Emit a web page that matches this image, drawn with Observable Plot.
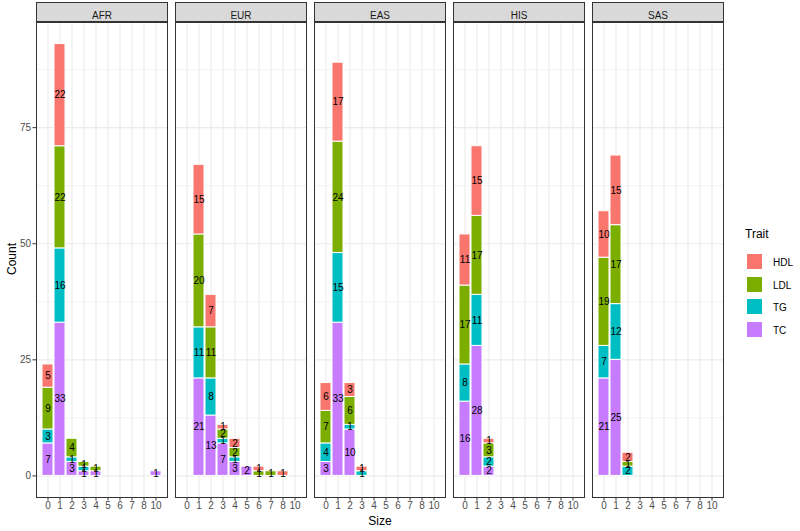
<!DOCTYPE html>
<html><head><meta charset="utf-8">
<script src="https://cdn.jsdelivr.net/npm/d3@7"></script>
<script src="https://cdn.jsdelivr.net/npm/@observablehq/plot@0.6"></script>
<style>
body{margin:0;background:#fff;font-family:"Liberation Sans",Arial,sans-serif;}
#wrap{position:relative;width:800px;height:531px;overflow:hidden;}
.abs{position:absolute;white-space:nowrap;}
</style></head><body><div id="wrap"></div>
<script>
// Facets, x categories, traits
const pops = ["AFR", "EUR", "EAS", "HIS", "SAS"];
const sizes = ["0", "1", "2", "3", "4", "5", "6", "7", "8", "10"];
const traits = ["HDL", "LDL", "TG", "TC"];          // legend order
const stackOrder = ["TC", "TG", "LDL", "HDL"];      // bottom -> top
const traitColors = ["#F8766D", "#7CAE00", "#00BFC4", "#C77CFF"];
const yTicks = [0, 25, 50, 75];
const yMinor = [12.5, 37.5, 62.5, 87.5];

// Counts per population, per trait, aligned with `sizes`
const AFR = {TC: [7, 33, 3, 1, 1, 0, 0, 0, 0, 1], TG: [3, 16, 1, 1, 0, 0, 0, 0, 0, 0], LDL: [9, 22, 4, 1, 1, 0, 0, 0, 0, 0], HDL: [5, 22, 0, 0, 0, 0, 0, 0, 0, 0]};
const EUR = {TC: [0, 21, 13, 7, 3, 2, 0, 0, 0, 0], TG: [0, 11, 8, 1, 1, 0, 0, 0, 0, 0], LDL: [0, 20, 11, 2, 2, 0, 1, 1, 0, 0], HDL: [0, 15, 7, 1, 2, 0, 1, 0, 1, 0]};
const EAS = {TC: [3, 33, 10, 0, 0, 0, 0, 0, 0, 0], TG: [4, 15, 1, 1, 0, 0, 0, 0, 0, 0], LDL: [7, 24, 6, 0, 0, 0, 0, 0, 0, 0], HDL: [6, 17, 3, 1, 0, 0, 0, 0, 0, 0]};
const HIS = {TC: [16, 28, 2, 0, 0, 0, 0, 0, 0, 0], TG: [8, 11, 2, 0, 0, 0, 0, 0, 0, 0], LDL: [17, 17, 3, 0, 0, 0, 0, 0, 0, 0], HDL: [11, 15, 1, 0, 0, 0, 0, 0, 0, 0]};
const SAS = {TC: [21, 25, 0, 0, 0, 0, 0, 0, 0, 0], TG: [7, 12, 2, 0, 0, 0, 0, 0, 0, 0], LDL: [19, 17, 1, 0, 0, 0, 0, 0, 0, 0], HDL: [10, 15, 2, 0, 0, 0, 0, 0, 0, 0]};
const popData = {AFR, EUR, EAS, HIS, SAS};

// Build stacked rows
const rows = [];
for (const pop of pops) {
  sizes.forEach((s, i) => {
    let acc = 0;
    for (const t of stackOrder) {
      const v = popData[pop][t][i];
      if (!v) continue;
      rows.push({pop, size: s, trait: t, value: v, y1: acc, y2: acc + v});
      acc += v;
    }
  });
}
const yMax = d3.max(rows, d => d.y2);
const pad = yMax * 0.05;

const FONT = "Liberation Sans, Arial, Helvetica, sans-serif";
const plot = Plot.plot({
  width: 800, height: 531,
  marginLeft: 34, marginRight: 74, marginTop: 22, marginBottom: 34,
  style: {fontFamily: FONT, fontSize: "10px", background: "white", overflow: "visible"},
  fx: {domain: pops, paddingInner: 0.057, paddingOuter: 0, axis: null, label: null},
  x: {domain: sizes, paddingInner: 0.1, paddingOuter: 0.15, label: null},
  y: {domain: [-pad, yMax + pad], label: null},
  color: {domain: traits, range: traitColors},
  marks: [
    Plot.frame({fill: "white"}),
    Plot.gridY(yMinor, {stroke: "#EBEBEB", strokeOpacity: 1, strokeWidth: 0.6}),
    Plot.gridY(yTicks, {stroke: "#EBEBEB", strokeOpacity: 1, strokeWidth: 1.1}),
    Plot.gridX(sizes, {stroke: "#EBEBEB", strokeOpacity: 1, strokeWidth: 1.1}),
    Plot.barY(rows, {fx: "pop", x: "size", y1: "y1", y2: "y2", fill: "trait", stroke: "white", strokeWidth: 1}),
    Plot.text(rows, {fx: "pop", x: "size", y: d => (d.y1 + d.y2) / 2, text: d => String(d.value), fill: "black", fontSize: 10}),
    Plot.axisY(yTicks, {tickSize: 3.5, tickPadding: 2, stroke: "#333333", fill: "#4D4D4D", fontSize: 10, label: null}),
    Plot.axisX({tickSize: 3.5, tickPadding: 1, stroke: "#333333", fill: "#4D4D4D", fontSize: 10, label: null}),
    Plot.frame({stroke: "#333333", strokeWidth: 1}),
    Plot.frame({fill: "#D9D9D9", stroke: "#333333", strokeWidth: 1, insetTop: -20, insetBottom: 476}),
    Plot.text(pops, {fx: d => d, text: d => d, frameAnchor: "top", dy: -10.5, fill: "#1A1A1A", fontSize: 10})
  ]
});
const wrap = document.getElementById("wrap");
wrap.appendChild(plot);

// Axis titles
const yt = document.createElement("div");
yt.className = "abs";
yt.textContent = "Count";
yt.style.cssText = "left:12px;top:259px;font-size:12px;color:#000;transform:translate(-50%,-50%) rotate(-90deg);";
wrap.appendChild(yt);
const xt = document.createElement("div");
xt.className = "abs";
xt.textContent = "Size";
xt.style.cssText = "left:380px;top:521px;font-size:12px;color:#000;transform:translate(-50%,-50%);";
wrap.appendChild(xt);

// Legend
const lt = document.createElement("div");
lt.className = "abs";
lt.textContent = "Trait";
lt.style.cssText = "left:745px;top:234px;font-size:12px;color:#000;transform:translateY(-50%);";
wrap.appendChild(lt);
traits.forEach((t, i) => {
  const cy = 262 + i * 22.6;
  const sq = document.createElement("div");
  sq.className = "abs";
  sq.style.cssText = `left:746px;top:${cy - 9}px;width:17px;height:17px;background:${traitColors[i]};border:1px solid #fff;box-sizing:border-box;`;
  wrap.appendChild(sq);
  const lb = document.createElement("div");
  lb.className = "abs";
  lb.textContent = t;
  lb.style.cssText = `left:773px;top:${cy}px;font-size:10px;color:#000;transform:translateY(-50%);`;
  wrap.appendChild(lb);
});
</script></body></html>
